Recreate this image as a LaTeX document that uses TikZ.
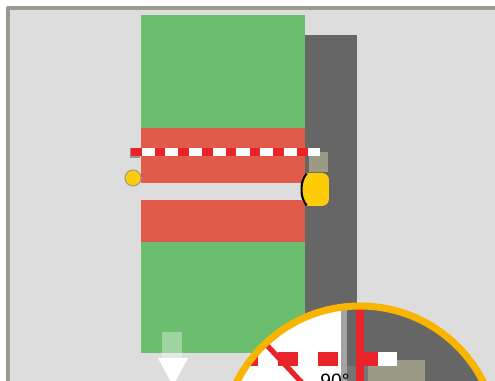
\documentclass[tikz,border=0pt]{standalone}
\usepackage{fontspec}
\setsansfont{Liberation Sans}
\usetikzlibrary{positioning,calc}
\definecolor{bgray}{HTML}{DDDDDD}
\definecolor{framegray}{HTML}{9A9A8E}
\definecolor{lawngreen}{HTML}{6BBE6E}
\definecolor{bandred}{HTML}{E15A4A}
\definecolor{walldark}{HTML}{666666}
\definecolor{knobyellow}{HTML}{FFCC0A}
\definecolor{ringorange}{HTML}{F7B500}
\definecolor{plateolive}{HTML}{9C9B86}
\definecolor{markred}{HTML}{E8242A}

\begin{document}
\begin{tikzpicture}[
    x=0.02cm, y=-0.02cm,
    every node/.style={font=\sffamily},
    dashline/.style={line width=5, dash pattern=on 6 off 7.5},
    knobstyle/.style={circle, fill=knobyellow, draw=plateolive, line width=0.6,
                      minimum size=16*0.02cm, inner sep=0pt},
    latchstyle/.style={rectangle, fill=knobyellow, rounded corners=4pt,
                       minimum width=27*0.02cm, minimum height=33*0.02cm, inner sep=0pt},
]
\useasboundingbox (0,0) rectangle (495,381);

% frame and background
\fill[bgray] (8,8) rectangle (495,381);
\draw[framegray, line width=2] (7,8) -- (495,8);
\draw[framegray, line width=2] (8,7) -- (8,381);

% lawn, bands and wall
\fill[lawngreen] (141,15) rectangle (305,353);
\fill[bandred] (141,128) rectangle (305,183);
\fill[bgray] (141,183) rectangle (305,200);
\fill[bandred] (141,200) rectangle (305,242);
\fill[walldark] (305,35) rectangle (357,381);

% small plates
\fill[plateolive!80!gray] (130,148) rectangle (140,158);
\fill[plateolive] (309,152) rectangle (328,172);

% dashed tape
\draw[white, line width=5] (131,152) -- (320,152);
\draw[markred, dashline] (131,152) -- (320,152);

% knob and latch
\node[knobstyle] (knob) at (133,178) {};
\node[latchstyle] (latch) at (315.5,189.5) {};
\draw[black, line width=1.2, rounded corners=4pt]
  ($(latch.north west)+(5,1)$) -- ($(latch.west)+(0,-10)$) -- ($(latch.west)+(0,10)$) -- ($(latch.south west)+(5,-1)$);
\draw[white, line width=1.5] (knob.east) ++(0,2) -- ($(knob.east)+(0,2)$ -| latch.west);

% arrow down
\fill[white, fill opacity=0.35] (162,332) rectangle (182,358);
\fill[white] (158,358) -- (188,358) -- (173,386) -- cycle;

% magnifier
\begin{scope}
  \clip (360,444) circle (138);
  \fill[white] (200,290) rectangle (500,390);
  \fill[walldark!60] (341,300) rectangle (347,390);
  \fill[walldark] (347,300) rectangle (500,390);
  \fill[walldark!90!white] (347,366) rectangle (368,390);
  \fill[plateolive] (368,360) rectangle (425,390);
  \fill[white] (377,352) rectangle (397,366);
  \foreach \sx in {238,278,318,358}
    \fill[markred] (\sx,352) rectangle (\sx+20,366);
  \draw[markred, line width=4] (360,300) -- (360,390);
  \draw[markred, line width=3] (262,340) -- (305,386);
  \node[anchor=north west, inner sep=0pt, font=\sffamily\fontsize{11}{13}\selectfont] (angle) at (320,374) {90°};
\end{scope}
\draw[ringorange, line width=4] (360,444) circle (138);

\end{tikzpicture}
\end{document}
